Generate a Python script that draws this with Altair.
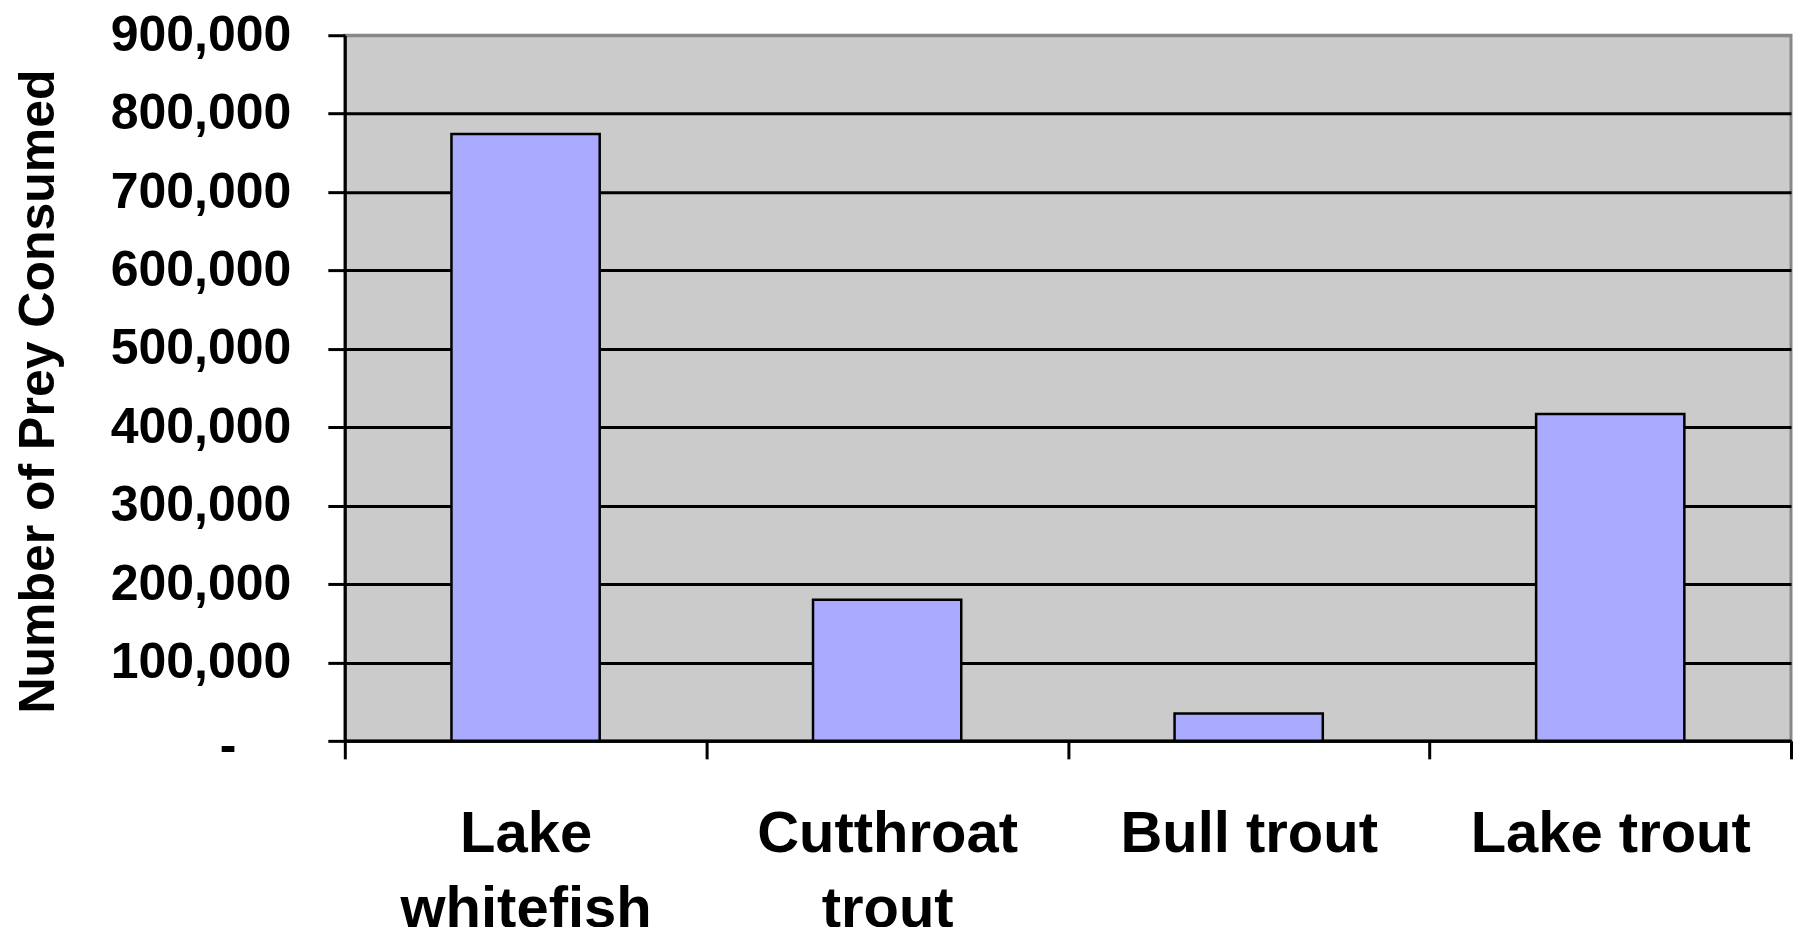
import altair as alt
import pandas as pd

categories = ["Lake whitefish", "Cutthroat trout", "Bull trout", "Lake trout"]
label_lines = {
    "Lake whitefish": ["Lake", "whitefish"],
    "Cutthroat trout": ["Cutthroat", "trout"],
    "Bull trout": ["Bull trout"],
    "Lake trout": ["Lake trout"],
}
prey_consumed = [774000, 180000, 35000, 417000]
y_ticks = [0, 100000, 200000, 300000, 400000, 500000, 600000, 700000, 800000, 900000]

df = pd.DataFrame({"species": categories, "prey": prey_consumed})

expr_parts = []
for k, v in label_lines.items():
    arr = "[" + ",".join("'" + s + "'" for s in v) + "]"
    expr_parts.append(f"datum.label == '{k}' ? {arr}")
label_expr = " : ".join(expr_parts) + " : datum.label"

FONT = "Liberation Sans"

chart = alt.Chart(df).mark_bar(
    color="#AAAAFF", stroke="black", strokeWidth=2.5,
    width=alt.RelativeBandSize(0.41),
).encode(
    x=alt.X(
        "species:N",
        sort=categories,
        scale=alt.Scale(paddingInner=0, paddingOuter=0),
        axis=alt.Axis(
            title=None,
            labelAngle=0,
            labelExpr=label_expr,
            labelFont=FONT,
            labelFontSize=58,
            labelFontWeight="bold",
            labelColor="black",
            labelLineHeight=75,
            labelBaseline="top",
            labelPadding=47,
            tickBand="extent",
            tickSize=18,
            tickWidth=3,
            tickColor="black",
            domainColor="black",
            domainWidth=3,
            grid=False,
            labelLimit=0,
        ),
    ),
    y=alt.Y(
        "prey:Q",
        scale=alt.Scale(domain=[0, 900000], nice=False),
        axis=alt.Axis(
            title="Number of Prey Consumed",
            titleFont=FONT,
            titleFontSize=50,
            titleFontWeight="bold",
            titleColor="black",
            titleAngle=270,
            titleAlign="center",
            titleBaseline="middle",
            titleX=-306,
            titleY=356,
            values=y_ticks,
            labelExpr="datum.value == 0 ? '-' : format(datum.value, ',')",
            labelFont=FONT,
            labelFontSize=50,
            labelFontWeight="bold",
            labelColor="black",
            labelPadding={"condition": {"test": "datum.value == 0", "value": 92}, "value": 37},
            labelOffset={"condition": {"test": "datum.value == 0", "value": 6}, "value": 0},
            tickSize=17,
            tickWidth=3,
            tickColor="black",
            domainColor="black",
            domainWidth=3,
            grid=True,
            gridColor={"condition": {"test": "datum.value == 900000", "value": "#888888"}, "value": "black"},
            gridWidth=3,
            labelLimit=0,
        ),
    ),
).properties(
    width=1447,
    height=706,
    background="white",
    autosize=alt.AutoSizeParams(type="none"),
    padding={"left": 337, "top": 27, "right": 2, "bottom": 186},
).configure_view(
    fill="#CBCBCB", stroke="#888888", strokeWidth=3
)

chart.save("out.html", embed_options={"renderer": "svg", "actions": False})
